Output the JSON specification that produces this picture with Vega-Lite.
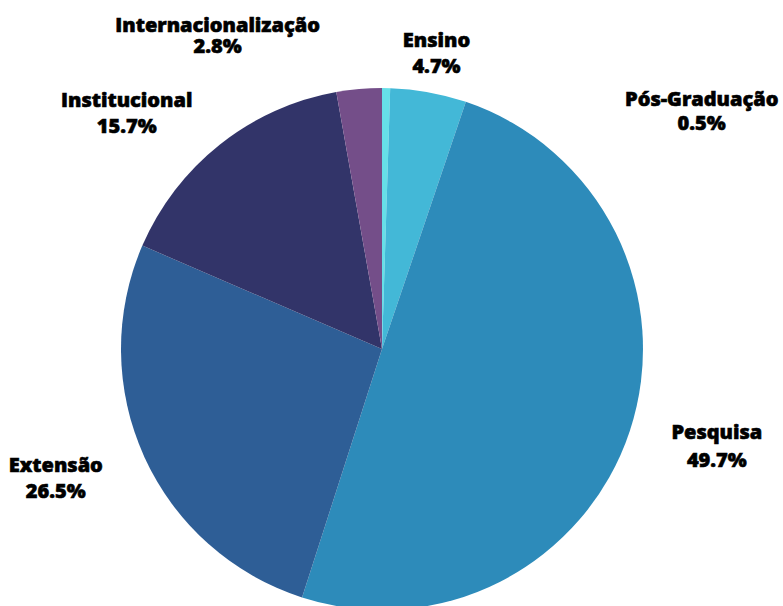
{
  "$schema": "https://vega.github.io/schema/vega-lite/v6.json",
  "width": 764,
  "height": 514,
  "autosize": {"type": "none"},
  "padding": {"left": 0, "top": 92, "right": 19, "bottom": 0},
  "background": "white",
  "config": {
    "view": {"stroke": null},
    "text": {"font": "Open Sans", "fontWeight": 800, "fontSize": 20, "color": "#000000", "stroke": "#000000", "strokeWidth": 0.6, "align": "center", "baseline": "alphabetic", "lineBreak": "\n"}
  },
  "data": {
    "values": [
      {"area": "Pós-Graduação", "share": 0.5, "order": 1, "label": "Pós-Graduação\n0.5%"},
      {"area": "Ensino", "share": 4.7, "order": 2, "label": "Ensino\n4.7%"},
      {"area": "Pesquisa", "share": 49.7, "order": 3, "label": "Pesquisa\n49.7%"},
      {"area": "Extensão", "share": 26.5, "order": 4, "label": "Extensão\n26.5%"},
      {"area": "Institucional", "share": 15.7, "order": 5, "label": "Institucional\n15.7%"},
      {"area": "Internacionalização", "share": 2.8, "order": 6, "label": "Internacionalização\n2.8%"}
    ]
  },
  "encoding": {
    "theta": {"field": "share", "type": "quantitative", "stack": true},
    "order": {"field": "order", "type": "quantitative"},
    "detail": {"field": "area", "type": "nominal"}
  },
  "layer": [
    {
      "mark": {"type": "arc", "outerRadius": 261, "strokeWidth": 0},
      "encoding": {
        "color": {
          "field": "area",
          "type": "nominal",
          "legend": null,
          "scale": {
            "domain": ["Pós-Graduação", "Ensino", "Pesquisa", "Extensão", "Institucional", "Internacionalização"],
            "range": ["#66dfe8", "#43b8d7", "#2d8bba", "#2e5e96", "#323469", "#744e89"]
          }
        }
      }
    },
    {
      "mark": {"type": "text", "radius": 300, "dx": 315, "dy": 57, "lineHeight": 24},
      "encoding": {"text": {"condition": {"test": "datum.area === 'Pós-Graduação'", "field": "label"}, "value": ""}}
    },
    {
      "mark": {"type": "text", "radius": 300, "dx": 1, "dy": -7, "lineHeight": 26},
      "encoding": {"text": {"condition": {"test": "datum.area === 'Ensino'", "field": "label"}, "value": ""}}
    },
    {
      "mark": {"type": "text", "radius": 300, "dx": 50, "dy": -4, "lineHeight": 28},
      "encoding": {"text": {"condition": {"test": "datum.area === 'Pesquisa'", "field": "label"}, "value": ""}}
    },
    {
      "mark": {"type": "text", "radius": 300, "dx": -53, "dy": -1, "lineHeight": 26},
      "encoding": {"text": {"condition": {"test": "datum.area === 'Extensão'", "field": "label"}, "value": ""}}
    },
    {
      "mark": {"type": "text", "radius": 300, "dx": -69, "dy": -7, "lineHeight": 26},
      "encoding": {"text": {"condition": {"test": "datum.area === 'Institucional'", "field": "label"}, "value": ""}}
    },
    {
      "mark": {"type": "text", "radius": 300, "dx": -138, "dy": -18, "lineHeight": 21},
      "encoding": {"text": {"condition": {"test": "datum.area === 'Internacionalização'", "field": "label"}, "value": ""}}
    }
  ]
}
